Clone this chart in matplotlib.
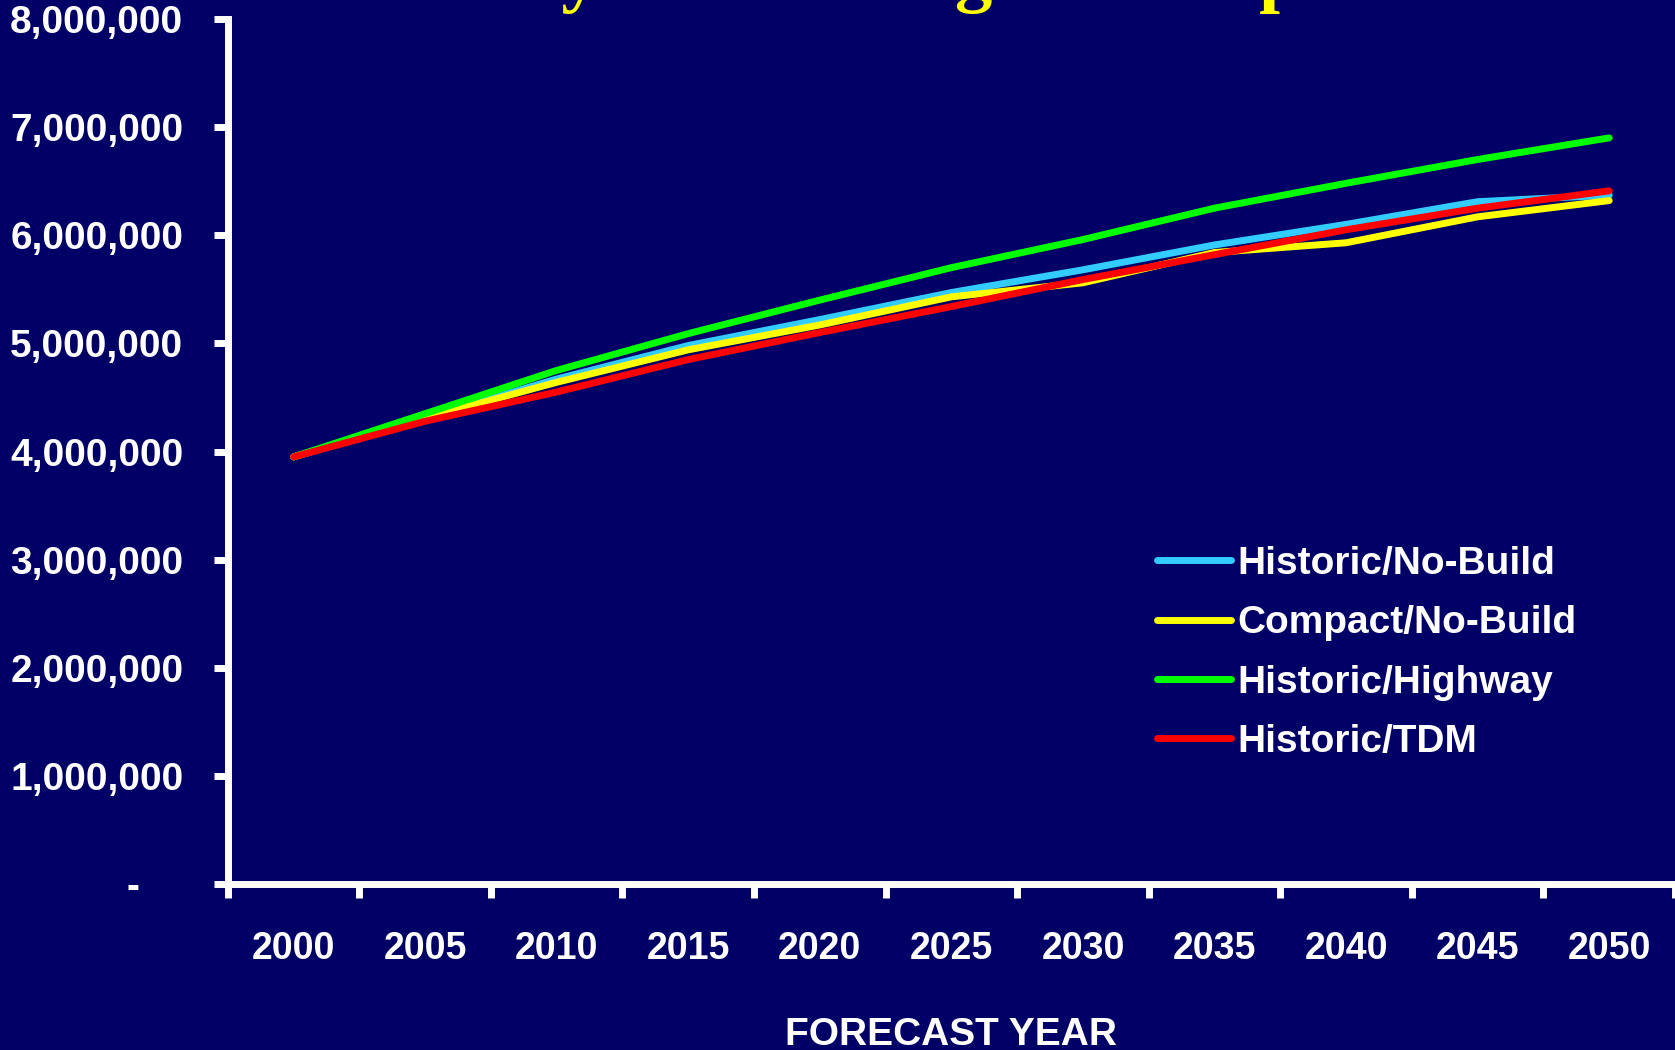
import matplotlib.pyplot as plt
from matplotlib.ticker import FuncFormatter, FixedLocator

# forecast years and daily totals per scenario
years = [2000, 2005, 2010, 2015, 2020, 2025, 2030, 2035, 2040, 2045, 2050]
historic_nobuild = [3950000, 4310000, 4670000, 4980000, 5220000, 5470000, 5680000, 5910000, 6100000, 6310000, 6370000]
compact_nobuild = [3950000, 4310000, 4640000, 4940000, 5170000, 5430000, 5560000, 5840000, 5930000, 6170000, 6320000]
historic_highway = [3950000, 4350000, 4750000, 5090000, 5400000, 5700000, 5960000, 6250000, 6480000, 6700000, 6900000]
historic_tdm = [3950000, 4280000, 4550000, 4850000, 5100000, 5340000, 5590000, 5820000, 6050000, 6250000, 6410000]

bg = "#000066"
font = "Liberation Sans"

fig = plt.figure(figsize=(16.75, 10.5), dpi=100, facecolor=bg)
ax = fig.add_axes([0.136, 0.158, 0.864, 0.824])
ax.set_facecolor(bg)

x = list(range(len(years)))
series = [
    (historic_nobuild, "#33CCFF", "Historic/No-Build"),
    (compact_nobuild, "#FFFF00", "Compact/No-Build"),
    (historic_highway, "#00FF00", "Historic/Highway"),
    (historic_tdm, "#FF0000", "Historic/TDM"),
]
for vals, col, lab in series:
    ax.plot(x, vals, color=col, lw=5, label=lab, solid_capstyle="round")

ax.set_xlim(-0.5, len(years) - 0.5)
ax.set_ylim(0, 8000000)

# category-style x axis: ticks between years, labels on the years
ax.xaxis.set_major_locator(FixedLocator([i - 0.5 for i in range(len(years) + 1)]))
ax.xaxis.set_minor_locator(FixedLocator(x))
ax.set_xticklabels([], minor=False)
ax.set_xticklabels([str(y) for y in years], minor=True)
ax.tick_params(axis="x", which="major", direction="out", length=10, width=5, color="white")
ax.tick_params(axis="x", which="minor", length=0, pad=34, labelsize=27, labelcolor="white")

ax.set_yticks(range(0, 8000001, 1000000))
ax.yaxis.set_major_formatter(FuncFormatter(lambda v, p: "-    " if v == 0 else f"{int(v):,}"))
ax.tick_params(axis="y", direction="out", length=10, width=5, color="white", pad=22,
               labelsize=28, labelcolor="white")

for lbl in ax.get_xticklabels(minor=True) + ax.get_yticklabels():
    lbl.set_fontfamily(font)
    lbl.set_fontweight("bold")

for s in ["top", "right"]:
    ax.spines[s].set_visible(False)
for s in ["left", "bottom"]:
    ax.spines[s].set_color("white")
    ax.spines[s].set_linewidth(5)

ax.set_xlabel("FORECAST YEAR", color="white", fontsize=28, fontweight="bold", fontfamily=font)
ax.xaxis.set_label_coords(0.5, -0.174)
ax.xaxis.label.set_va("center")

leg = ax.legend(loc="upper left", bbox_to_anchor=(0.691, 0.480), bbox_transform=fig.transFigure,
                frameon=False, borderpad=0, borderaxespad=0, handlelength=1.9,
                handletextpad=0.16, labelspacing=0.6,
                prop={"family": font, "weight": "bold", "size": 28})
for t in leg.get_texts():
    t.set_color("white")

# title, mostly cut off by the top edge of the slide
fig.text(0.562, 1.002, "Daily VMT Using Land Options", color="#FFFF00", fontsize=54,
         fontweight="bold", fontfamily="Liberation Serif", ha="center", va="baseline")

fig.savefig("out.png", dpi=100, facecolor=bg)
